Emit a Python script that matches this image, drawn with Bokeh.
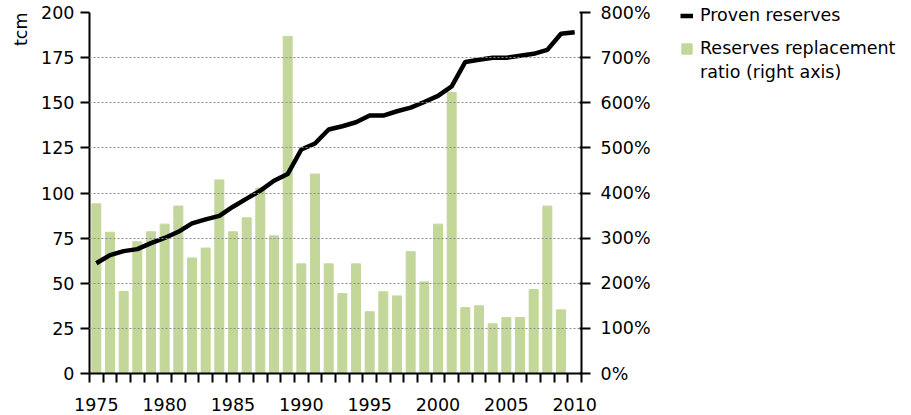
from bokeh.plotting import figure
from bokeh.layouts import row
from bokeh.models import (Range1d, LinearAxis, FixedTicker, PrintfTickFormatter,
                          Legend, LegendItem, Title)
from bokeh.embed import file_html
from bokeh.resources import INLINE

years = list(range(1975, 2011))
reserves = [61.1, 65.6, 67.8, 68.9, 72.2, 75.1, 78.5, 83.2, 85.4, 87.3,
            92.4, 96.9, 101.3, 106.8, 110.5, 124.1, 127.4, 135.2, 137.0, 139.2,
            142.9, 142.9, 145.3, 147.3, 150.4, 153.8, 159.1, 172.6, 173.8, 174.9,
            174.9, 176.0, 177.1, 179.3, 188.2, 189.1]
ratio_years = list(range(1975, 2010))
ratio = [376, 313, 182, 292, 314, 331, 371, 256, 278, 429,
         314, 345, 411, 305, 747, 243, 442, 243, 177, 243,
         137, 181, 172, 270, 203, 331, 623, 146, 150, 110,
         124, 124, 186, 371, 141]
left_ticks = [0, 25, 50, 75, 100, 125, 150, 175, 200]
right_ticks = [0, 100, 200, 300, 400, 500, 600, 700, 800]
label_years = [1975, 1980, 1985, 1990, 1995, 2000, 2005, 2010]

FONT = "DejaVu Sans"
FS = "17.5px"
GREEN = "#c4d79b"
H = 413
W1 = 653
W2 = 905 - W1

p = figure(width=W1, height=H, x_range=Range1d(1974.5, 2010.5),
           y_range=Range1d(0, 200), output_backend="svg", toolbar_location=None,
           min_border_left=87, min_border_right=72, min_border_top=12,
           min_border_bottom=39)
p.frame_align = False
p.outline_line_color = None
p.extra_y_ranges = {"pct": Range1d(0, 800)}

bars = p.vbar(x=ratio_years, top=ratio, width=0.66, color=GREEN,
              y_range_name="pct")
line = p.line(x=years, y=reserves, line_color="black", line_width=4.5)

# x axis
xa = p.xaxis[0]
xa.ticker = FixedTicker(ticks=label_years,
                        minor_ticks=[y - 0.5 for y in years] + [2010.5])
xa.major_tick_out = 0
xa.major_tick_in = 0
xa.minor_tick_out = 9
xa.minor_tick_in = 0
xa.minor_tick_line_color = "black"
xa.minor_tick_line_width = 2
xa.axis_line_width = 2
xa.major_label_standoff = 15
xa.major_label_text_font = FONT
xa.major_label_text_font_size = FS
xa.major_label_text_color = "black"
p.xgrid.grid_line_color = None

# left axis
ya = p.yaxis[0]
ya.ticker = FixedTicker(ticks=left_ticks)
ya.minor_tick_line_color = None
ya.major_tick_out = 9
ya.major_tick_in = 0
ya.major_tick_line_width = 2
ya.axis_line_width = 2
ya.major_label_standoff = 6
ya.major_label_text_font = FONT
ya.major_label_text_font_size = FS
ya.major_label_text_color = "black"

p.ygrid.ticker = FixedTicker(ticks=left_ticks)
p.ygrid.grid_line_color = "#8c8c8c"
p.ygrid.grid_line_dash = "2 2"
p.ygrid.grid_line_width = 1
p.ygrid.level = "annotation"

# right axis
ra = LinearAxis(y_range_name="pct", ticker=FixedTicker(ticks=right_ticks),
                formatter=PrintfTickFormatter(format="%d%%"))
ra.minor_tick_line_color = None
ra.major_tick_out = 9
ra.major_tick_in = 2
ra.major_tick_line_width = 2
ra.axis_line_width = 2
ra.major_label_standoff = 10
ra.major_label_text_font = FONT
ra.major_label_text_font_size = FS
ra.major_label_text_color = "black"
p.add_layout(ra, "right")

# axis title
t = Title(text="tcm", align="right", text_font=FONT, text_font_size=FS,
          text_font_style="normal", text_color="black", standoff=16)
p.add_layout(t, "left")

# legend panel
p2 = figure(width=W2, height=H, x_range=Range1d(0, W2), y_range=Range1d(0, H),
            x_axis_type=None, y_axis_type=None,
            output_backend="svg", toolbar_location=None,
            min_border_left=0, min_border_right=0, min_border_top=0,
            min_border_bottom=0)
p2.frame_align = False
p2.grid.visible = False
p2.outline_line_color = None
l_line = p2.line(x=[-10, -9], y=[-10, -10], line_color="black", line_width=4.5)
l_bar = p2.vbar(x=[-10], top=[-10], width=1, color=GREEN)
l_none = p2.line(x=[-10, -9], y=[-10, -10], line_alpha=0)

common = dict(orientation="vertical", border_line_color=None,
              background_fill_alpha=0, padding=0, margin=0,
              glyph_width=13, glyph_height=13, label_standoff=7,
              label_height=20, label_text_font=FONT, label_text_font_size=FS,
              label_text_color="black")
legend_a = Legend(items=[LegendItem(label="Proven reserves", renderers=[l_line])],
                  location=(27, 388), spacing=0, **common)
legend_b = Legend(items=[LegendItem(label="Reserves replacement", renderers=[l_bar]),
                         LegendItem(label="ratio (right axis)", renderers=[l_none])],
                  location=(27, 331), spacing=4, **common)
p2.add_layout(legend_a, "center")
p2.add_layout(legend_b, "center")

open("out.html", "w").write(file_html(row(p, p2), INLINE))
